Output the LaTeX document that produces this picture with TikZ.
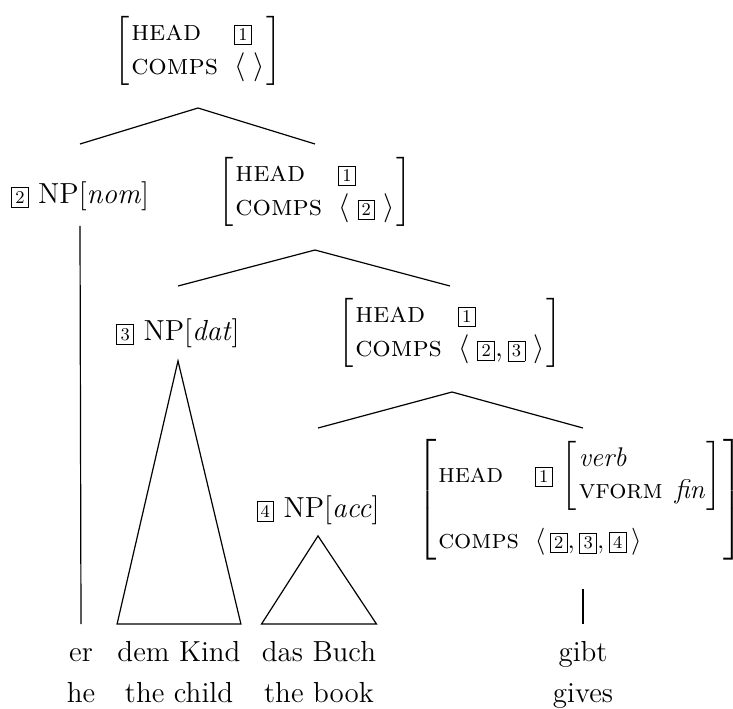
\RequirePackage{fix-cm}
\documentclass[tikz,border=0pt]{standalone}
\usepackage{amsmath}
\usepackage{fontspec}
\usetikzlibrary{calc,positioning}
\newcommand{\ibox}[1]{{\setlength{\fboxsep}{1.7pt}\fbox{\fontsize{9}{10}\selectfont #1}}}
\newcommand{\feat}[1]{\mbox{\textsc{#1}}}
\newcommand{\hcavm}[3][0pt]{$\left[\begin{array}{@{\hspace{1pt}}l@{\hspace{8pt}}l@{\hspace{1pt}}}
  \feat{head} & #2\\[#1] \feat{comps} & #3\end{array}\right]$}
\tikzset{
  lbl/.style={font=\fontsize{14.5}{17}\selectfont, inner sep=0pt},
  word/.style={lbl, anchor=base},
  branch/.style={line width=0.6pt},
  tri/.style={line width=0.6pt, line join=miter}
}

\begin{document}
\begin{tikzpicture}[x=0.5pt, y=-0.5pt]
\useasboundingbox (0,0) rectangle (733,708);
% feature structures and phrases
\node[lbl] (root) at (198,51) {\hcavm{\ibox{1}}{\langle\;\rangle}};
\node[lbl] (nom) at (80,196) {\ibox{2} NP[\textit{nom}]};
\node[lbl] (avm2) at (315,192) {\hcavm{\ibox{1}}{\langle\;\ibox{2}\;\rangle}};
\node[lbl] (dat) at (178,333) {\ibox{3} NP[\textit{dat}]};
\node[lbl] (avm3) at (450,333) {\hcavm{\ibox{1}}{\langle\;\ibox{2}, \ibox{3}\;\rangle}};
\node[lbl] (acc) at (318,510) {\ibox{4} NP[\textit{acc}]};
\node[lbl, font=\fontsize{13.5}{16}\selectfont] (avm4) at (580,500) {\hcavm[17pt]{\ibox{1}\,\left[\begin{array}{@{\hspace{1pt}}l@{\hspace{6pt}}l@{\hspace{1pt}}}
  \textit{verb} & \\ \feat{vform} & \textit{fin}\end{array}\right]}{\langle\,\ibox{2}, \ibox{3}, \ibox{4}\,\rangle}};
% words and glosses
\node[word] (er) at (81,661) {er};
\node[word] (kind) at (179,661) {dem Kind};
\node[word] (buch) at (319,661) {das Buch};
\node[word] (gibt) at (583,661) {gibt};
\node[word] (he) at (81,702) {he};
\node[word] (child) at (179,702) {the child};
\node[word] (book) at (319,702) {the book};
\node[word] (gives) at (583,702) {gives};
% branches
\coordinate (a1) at (198,108); \coordinate (e1) at (0,144);
\coordinate (a2) at (315,250); \coordinate (e2) at (0,286);
\coordinate (a3) at (452,392); \coordinate (e3) at (0,428);
\coordinate (base) at (0,624);
\draw[branch] (nom |- e1) -- (a1) -- (avm2 |- e1);
\draw[branch] (dat |- e2) -- (a2) -- (avm3 |- e2);
\draw[branch] (acc |- e3) -- (a3) -- (gibt |- e3);
\draw[branch] ([yshift=-7.5pt]nom.south) -- (er |- base);
\draw[branch] ([yshift=-14pt]avm4.south -| gibt) -- (gibt |- base);
\draw[tri] ([yshift=-6.5pt]dat.south) -- (kind.west |- base) -- (kind.east |- base) -- cycle;
\draw[tri] ([yshift=-5.5pt]acc.south) -- (buch.west |- base) -- (buch.east |- base) -- cycle;
\end{tikzpicture}
\end{document}
